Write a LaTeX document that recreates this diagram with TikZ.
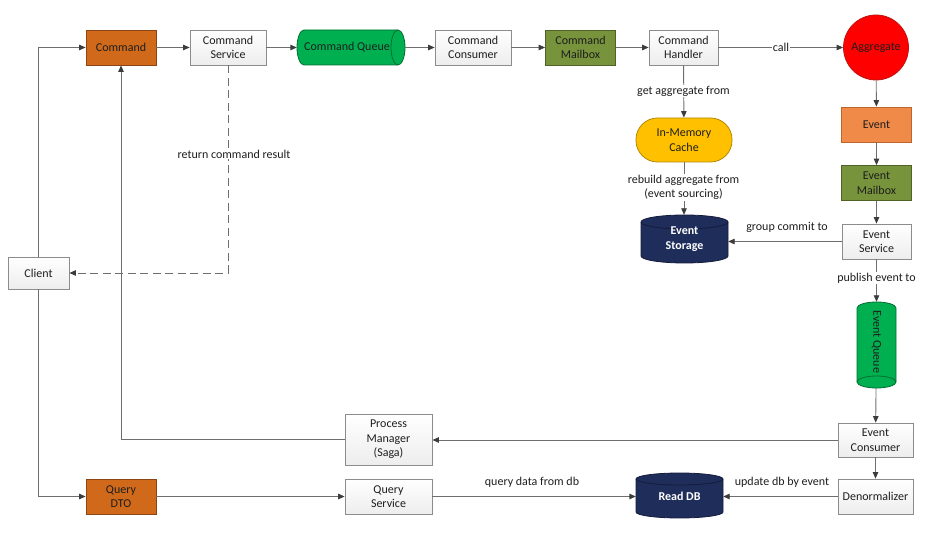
\documentclass[tikz,border=0pt]{standalone}
\usepackage{fontspec}
\setmainfont{Carlito}
\usetikzlibrary{arrows.meta}
\definecolor{cmdorange}{RGB}{208,106,26}
\definecolor{cmdorangeD}{RGB}{140,70,20}
\definecolor{evorange}{RGB}{240,138,72}
\definecolor{evorangeD}{RGB}{190,100,45}
\definecolor{qgreen}{RGB}{0,176,80}
\definecolor{qgreenD}{RGB}{0,110,50}
\definecolor{olive}{RGB}{119,147,60}
\definecolor{oliveD}{RGB}{80,98,40}
\definecolor{aggred}{RGB}{255,0,0}
\definecolor{aggredD}{RGB}{190,20,20}
\definecolor{cacheY}{RGB}{255,192,0}
\definecolor{cacheYD}{RGB}{180,135,0}
\definecolor{navy}{RGB}{31,45,90}
\definecolor{navyD}{RGB}{20,28,60}
\definecolor{boxgray}{RGB}{140,140,140}
\definecolor{linegray}{RGB}{110,110,110}
\definecolor{tipgray}{RGB}{60,60,60}
\definecolor{txt}{RGB}{30,30,30}
\newcommand\myHcyl[7]{%
  \path[fill=#6,draw=#7,line width=0.8pt] (#1+#5,#2) -- (#3-#5,#2)
    arc[start angle=270,end angle=450,x radius=#5,y radius={(#4-#2)/2}]
    -- (#1+#5,#4)
    arc[start angle=90,end angle=270,x radius=#5,y radius={(#4-#2)/2}] -- cycle;
  \draw[draw=#7,line width=0.8pt] (#3-#5,#2)
    arc[start angle=270,end angle=90,x radius=#5,y radius={(#4-#2)/2}];
}
\newcommand\myVcyl[8]{% #8 = top or bot face
  \path[fill=#6,draw=#7,line width=0.8pt] (#1,#2+#5)
    arc[start angle=180,end angle=360,x radius={(#3-#1)/2},y radius=#5]
    -- (#3,#4-#5)
    arc[start angle=0,end angle=180,x radius={(#3-#1)/2},y radius=#5] -- cycle;
  \ifx#8t
  \draw[draw=#7,line width=0.8pt] (#1,#2+#5)
    arc[start angle=180,end angle=0,x radius={(#3-#1)/2},y radius=#5];
  \else
  \draw[draw=#7,line width=0.8pt] (#1,#4-#5)
    arc[start angle=180,end angle=360,x radius={(#3-#1)/2},y radius=#5];
  \fi
}
\begin{document}
\begin{tikzpicture}[x=1pt,y=-1pt,
  font=\fontsize{12}{14.5}\selectfont, text=txt,
  box/.style={draw=boxgray, line width=0.8pt, top color=white, bottom color=gray!14,
     align=center, inner sep=0pt, minimum width=76pt, minimum height=35pt},
  cbox/.style 2 args={draw=#2, line width=0.8pt, fill=#1, align=center, inner sep=0pt,
     minimum width=70pt, minimum height=35pt},
  anc/.style={inner sep=0pt, align=center},
  arr/.style={draw=linegray, line width=0.9pt, -{Triangle[length=6.5pt,width=5.5pt,color=tipgray]}},
  ln/.style={draw=linegray, line width=0.9pt},
  lbl/.style={fill=white, inner sep=1pt}]
\useasboundingbox (0,0) rectangle (945,534);

% cylinders (shapes)
\myHcyl{297}{30}{405}{65}{7}{qgreen}{qgreenD}
\myVcyl{641}{215}{728}{263}{7}{navy}{navyD}{t}
\myVcyl{636}{473}{723}{518}{6}{navy}{navyD}{t}
\myVcyl{857}{302}{896}{388}{6}{qgreen}{qgreenD}{b}

% nodes
\node[cbox={cmdorange}{cmdorangeD}] (cmd) at (121,47.5) {Command};
\node[box] (csvc) at (228,47.5) {Command\\Service};
\node[anc, minimum width=108pt, minimum height=35pt] (cq) at (351,47.5) {};
\node[inner sep=0pt] at (347,47.5) {Command Queue};
\node[box] (ccons) at (473,47.5) {Command\\Consumer};
\node[cbox={olive}{oliveD}] (cmb) at (580.5,47.5) {Command\\Mailbox};
\node[box, minimum width=69pt] (ch) at (683.5,47.5) {Command\\Handler};
\node[circle, draw=aggredD, line width=0.8pt, fill=aggred, minimum size=65pt, inner sep=0pt] (agg) at (876,47.5) {Aggregate};
\node[draw=cacheYD, line width=0.8pt, fill=cacheY, rounded corners=21.5pt, minimum width=96pt,
      minimum height=44pt, align=center, inner sep=0pt] (cache) at (684,140) {In-Memory\\Cache};
\node[anc, minimum width=87pt, minimum height=48pt, text=white, font=\fontsize{12}{14.5}\selectfont\bfseries] (estor) at (684.5,239) {Event\\Storage};
\node[cbox={evorange}{evorangeD}] (ev) at (876.5,124.5) {Event};
\node[cbox={olive}{oliveD}] (emb) at (876.5,183) {Event\\Mailbox};
\node[box, minimum width=69pt] (esvc) at (876.5,241.5) {Event\\Service};
\node[anc, minimum width=39pt, minimum height=86pt] (eq) at (876.5,345) {};
\node[rotate=-90, inner sep=0pt] at (876.5,342) {Event Queue};
\node[box, minimum width=75pt, minimum height=34pt] (econs) at (875.5,440) {Event\\Consumer};
\node[box, minimum width=75pt] (denorm) at (875.5,496.5) {Denormalizer};
\node[box, minimum width=87pt, minimum height=51pt] (pm) at (388.5,439.5) {Process\\Manager\\(Saga)};
\node[cbox={cmdorange}{cmdorangeD}] (qdto) at (121,496.5) {Query\\DTO};
\node[box, minimum width=87pt] (qsvc) at (388.5,496.5) {Query\\Service};
\node[anc, minimum width=87pt, minimum height=45pt, text=white, font=\fontsize{12}{14.5}\selectfont\bfseries] (rdb) at (679.5,496.5) {Read DB};
\node[box, minimum width=61pt, minimum height=32pt] (client) at (38.5,273) {Client};

% connectors top row
\draw[arr] (cmd) -- (csvc);
\draw[arr] (csvc) -- (cq);
\draw[arr] (cq) -- (ccons);
\draw[arr] (ccons) -- (cmb);
\draw[arr] (cmb) -- (ch);
\draw[arr] (ch) -- (agg);
\node[lbl] (lcall) at (781,47.5) {call};

% handler to cache to storage
\draw[arr] (ch) -- (cache);
\node[lbl] (lget) at (683.5,91) {get aggregate from};
\draw[arr] (cache) -- (cache.south |- estor.north);
\node[lbl, align=center] (lreb) at (683.5,187.5) {rebuild aggregate from\\(event sourcing)};

% event chain
\draw[arr] (agg) -- (ev);
\draw[arr] (ev) -- (emb);
\draw[arr] (emb) -- (esvc);
\draw[arr] (esvc.west) -- (esvc.west -| estor.east);
\node[inner sep=1pt] (lgrp) at (787,227) {group commit to};
\draw[arr] (esvc) -- (eq);
\node[lbl] (lpub) at (876.5,278) {publish event to};
\draw[arr] (eq) -- (econs);
\draw[arr] (econs) -- (denorm);
\draw[arr] (econs.west) -- (econs.west -| pm.east);
\draw[arr] (pm.west) -| (cmd.south);

% query side
\draw[arr] (client.north) |- (cmd.west);
\draw[arr] (client.south) |- (qdto.west);
\draw[arr] (qdto) -- (qsvc);
\draw[arr] (qsvc.east) -- (qsvc.east -| rdb.west);
\node[inner sep=1pt] (lqd) at (532,482) {query data from db};
\draw[arr] (denorm.west) -- (denorm.west -| rdb.east);
\node[inner sep=1pt] (lupd) at (782,482) {update db by event};

% dashed return
\draw[arr, dash pattern=on 8pt off 4.5pt] (csvc.south) |- (client.east);
\node[lbl] (lret) at (234,154) {return command result};
\end{tikzpicture}
\end{document}
